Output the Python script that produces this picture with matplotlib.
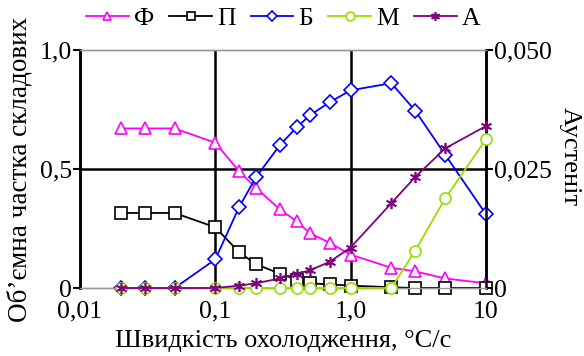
import numpy as np
import matplotlib
matplotlib.use('Agg')
import matplotlib.pyplot as plt
from matplotlib.ticker import FixedLocator, NullLocator

plt.rcParams['font.family'] = ['Liberation Serif', 'DejaVu Serif']

# cooling rate, degC/s
rate = [0.02, 0.03, 0.05, 0.1, 0.15, 0.2, 0.3, 0.4, 0.5, 0.7, 1.0, 2.0, 3.0, 5.0, 10.0]

# volume fractions (left axis)
ferrite = [0.67, 0.67, 0.67, 0.61, 0.49, 0.42, 0.33, 0.28, 0.23, 0.19, 0.14, 0.085, 0.07, 0.04, 0.02]
pearlite = [0.315, 0.315, 0.315, 0.255, 0.15, 0.10, 0.06, 0.035, 0.02, 0.015, 0.01, 0.003, 0.0, 0.0, 0.0]
bainite = [0.0, 0.0, 0.0, 0.12, 0.34, 0.465, 0.60, 0.675, 0.725, 0.78, 0.83, 0.86, 0.745, 0.56, 0.31]

# right axis (austenite scale)
martensite = [0.0, 0.0, 0.0, 0.0, 0.0, 0.0, 0.0, 0.0, 0.0, 0.0, 0.0, 0.0, 0.0078, 0.0188, 0.0312]
austenite = [0.0, 0.0, 0.0, 0.0, 0.0005, 0.001, 0.002, 0.003, 0.0037, 0.0055, 0.0085, 0.0178, 0.0233, 0.0293, 0.034]

labels = ['Ф', 'П', 'Б', 'М', 'А']
x_ticks = [0.01, 0.1, 1.0, 10]
x_ticklabels = ['0,01', '0,1', '1,0', '10']
yl_ticks = [0, 0.5, 1.0]
yl_ticklabels = ['0', '0,5', '1,0']
yr_ticks = [0, 0.025, 0.05]
yr_ticklabels = ['0', '0,025', '0,050']

fs = 18.5

fig = plt.figure(figsize=(5.84, 3.56), dpi=100)
ax = fig.add_axes([0.137, 0.191, 0.695, 0.669])
ax2 = ax.twinx()

ax.set_xscale('log')
ax.set_xlim(0.01, 10)
ax.set_ylim(0, 1.0)
ax2.set_ylim(0, 0.05)

# grid lines drawn by hand at the major positions
for xv in [0.1, 1.0]:
    ax.axvline(xv, color='k', lw=1.8, zorder=1)
ax.axhline(0.5, color='k', lw=1.8, zorder=1)

kw = dict(lw=1.3, ms=8, mew=1.2, mfc='white', clip_on=False)
hf, = ax.plot(rate, ferrite, color='#ff00ff', marker='^', zorder=3, **kw)
hp, = ax.plot(rate, pearlite, color='k', marker='s', zorder=3, **kw)
hb, = ax.plot(rate, bainite, color='#0000ff', marker='D', zorder=3, **{**kw, 'ms': 7})
hm, = ax2.plot(rate, martensite, color='#99dd00', marker='o', zorder=3, **kw)
ha, = ax2.plot(rate, austenite, color='#800080', marker=(6, 2, 0), zorder=4, **kw)

ax.xaxis.set_major_locator(FixedLocator(x_ticks))
ax.xaxis.set_minor_locator(NullLocator())
ax.set_xticklabels(x_ticklabels)
ax.set_yticks(yl_ticks)
ax.set_yticklabels(yl_ticklabels)
ax2.set_yticks(yr_ticks)
ax2.set_yticklabels(yr_ticklabels)

ax.tick_params(axis='x', length=0, labelsize=fs, pad=9)
ax.tick_params(axis='y', length=5, width=1.5, labelsize=fs, pad=1)
ax2.tick_params(axis='y', length=5, width=1.5, labelsize=fs, pad=1)

for a in (ax, ax2):
    a.spines['top'].set_color('#999999')
    a.spines['top'].set_linewidth(1.0)
    a.spines['bottom'].set_color('#999999')
    a.spines['bottom'].set_linewidth(1.0)
    a.spines['left'].set_linewidth(1.8)
    a.spines['right'].set_linewidth(1.8)

ax.set_xlabel('Швидкість охолодження, °C/с', fontsize=19)
ax.xaxis.set_label_coords(0.5, -0.175)
ax.set_ylabel('Об’ємна частка складових', fontsize=19.5)
ax.yaxis.set_label_coords(-0.118, 0.5)
ax2.set_ylabel('Аустеніт', fontsize=19, rotation=-90, va='center')
ax2.yaxis.set_label_coords(1.207, 0.55)

fig.legend([hf, hp, hb, hm, ha], labels, loc='center', bbox_to_anchor=(0.485, 0.947),
           ncol=5, frameon=False, fontsize=fs, handlelength=1.65, handletextpad=0.2,
           columnspacing=0.6, borderaxespad=0, markerscale=0.8)

fig.savefig('out.png', dpi=100)
